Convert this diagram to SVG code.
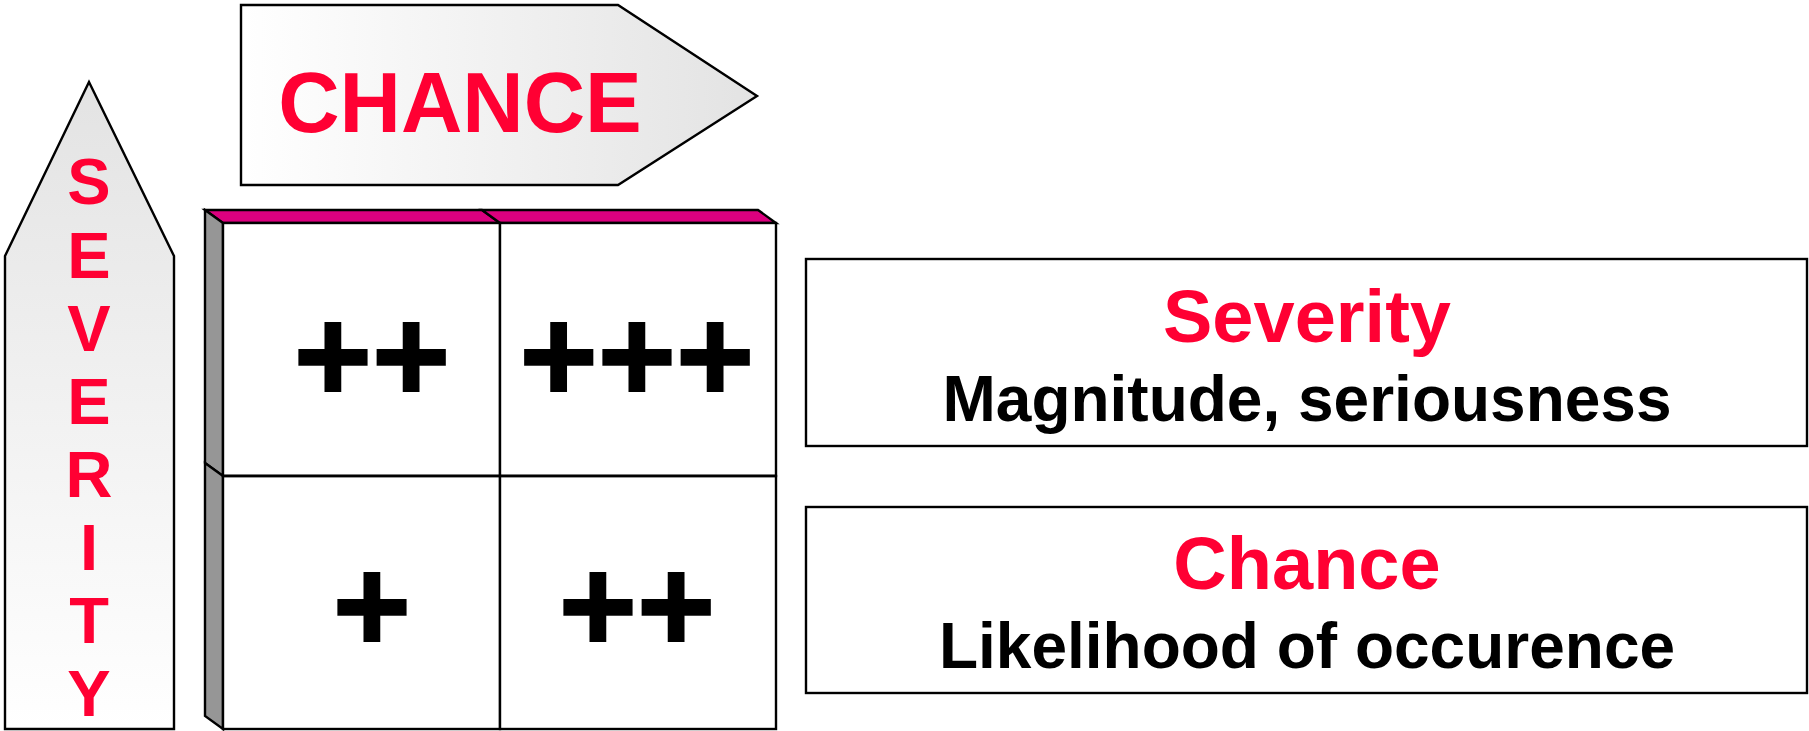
<svg xmlns="http://www.w3.org/2000/svg" width="1809" height="731" viewBox="0 0 1809 731">
<defs>
<linearGradient id="gH" x1="0" y1="0" x2="1" y2="0"><stop offset="0" stop-color="#ffffff"/><stop offset="1" stop-color="#e3e3e3"/></linearGradient>
<linearGradient id="gV" x1="0" y1="0" x2="0" y2="1"><stop offset="0" stop-color="#e3e3e3"/><stop offset="1" stop-color="#ffffff"/></linearGradient>
</defs>
<style>
.ln{stroke:#000;stroke-width:2.4;stroke-linejoin:miter}
.red{fill:#ff0033;font-family:"Liberation Sans",Arial,sans-serif;font-weight:bold}
.blk{fill:#000;font-family:"Liberation Sans",Arial,sans-serif;font-weight:bold}
.pl{fill:#000;stroke:#000;stroke-width:2;font-family:"Liberation Sans",Arial,sans-serif;font-weight:bold;font-size:134px;text-anchor:middle}
</style>
<g id="chance-arrow">
<polygon class="ln" fill="url(#gH)" points="241,5 618,5 757,96 618,185 241,185"/>
<text class="red" x="460" y="132" font-size="85" text-anchor="middle">CHANCE</text>
</g>
<g id="severity-arrow">
<polygon class="ln" fill="url(#gV)" points="89,82 174,256 174,729 5,729 5,256"/>
<g class="red" font-size="65" text-anchor="middle">
<text x="89" y="204">S</text>
<text x="89" y="278">E</text>
<text x="89" y="351">V</text>
<text x="89" y="424">E</text>
<text x="89" y="497">R</text>
<text x="89" y="570">I</text>
<text x="89" y="643">T</text>
<text x="89" y="716">Y</text>
</g>
</g>
<g id="matrix">
<polygon class="ln" fill="#dc007f" points="205,210 482,210 500,223 223,223"/>
<polygon class="ln" fill="#dc007f" points="482,210 758,210 776,223 500,223"/>
<polygon class="ln" fill="#969696" points="205,210 223,223 223,476 205,463"/>
<polygon class="ln" fill="#969696" points="205,463 223,476 223,729 205,716"/>
<rect class="ln" fill="#fff" x="223" y="223" width="277" height="253"/>
<rect class="ln" fill="#fff" x="500" y="223" width="276" height="253"/>
<rect class="ln" fill="#fff" x="223" y="476" width="277" height="253"/>
<rect class="ln" fill="#fff" x="500" y="476" width="276" height="253"/>
<line class="ln" x1="223" y1="476" x2="776" y2="476" stroke-width="3.5"/>
</g>
<g id="cell-tl"><text class="pl" x="372" y="402">++</text></g>
<g id="cell-tr"><text class="pl" x="637" y="402">+++</text></g>
<g id="cell-bl"><text class="pl" x="372" y="652">+</text></g>
<g id="cell-br"><text class="pl" x="637" y="652">++</text></g>
<g id="box-severity">
<rect class="ln" fill="#fff" x="806" y="259" width="1001" height="187"/>
<text class="red" x="1307" y="342" font-size="74" text-anchor="middle">Severity</text>
<text class="blk" x="1307" y="421" font-size="64" text-anchor="middle">Magnitude, seriousness</text>
</g>
<g id="box-chance">
<rect class="ln" fill="#fff" x="806" y="507" width="1001" height="186"/>
<text class="red" x="1307" y="589" font-size="74" text-anchor="middle">Chance</text>
<text class="blk" x="1307" y="668" font-size="64" text-anchor="middle">Likelihood of occurence</text>
</g>
<g id="connectors"/>
</svg>
